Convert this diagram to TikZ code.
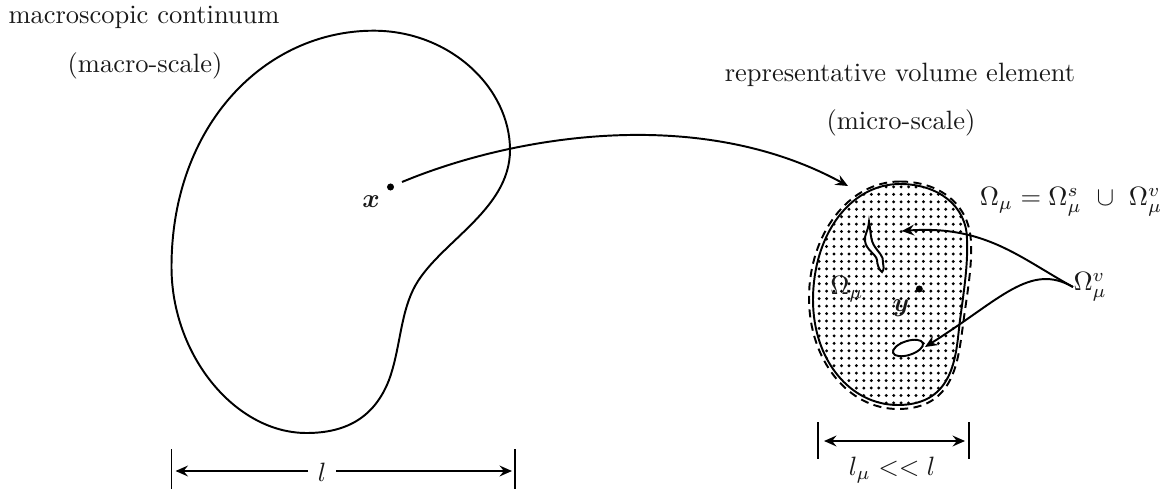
\documentclass[tikz,border=0pt]{standalone}
\usepackage{amsmath}
\usepackage{amssymb}
\usetikzlibrary{arrows.meta}
\newcommand{\rvesolid}{(900,184) .. controls (937,184) and (967,205) .. (967,240) .. controls (968,265) and (964,290) .. (960,320) .. controls (956,350) and (957,405) .. (898,405) .. controls (850,405) and (813,360) .. (813,300) .. controls (813,235) and (850,184) .. (900,184) -- cycle}
\newcommand{\rvedash}{(900,181.5) .. controls (940,181.5) and (971,205) .. (971,245) .. controls (972,270) and (966,300) .. (963,325) .. controls (958,360) and (955,409) .. (898,409) .. controls (848,409) and (809,360) .. (809,298) .. controls (809,235) and (848,181.5) .. (900,181.5) -- cycle}
\tikzset{
  x=0.37pt,y=-0.37pt,
  curve/.style={line width=0.72pt,black},
  conn/.style={line width=0.72pt,black,-{Stealth[length=4.6pt,width=4pt,inset=1.6pt]}},
  dimarrow/.style={line width=0.72pt,black,{Stealth[length=4.6pt,width=4pt,inset=1.6pt]}-{Stealth[length=4.6pt,width=4pt,inset=1.6pt]}},
  txt/.style={inner sep=0pt,text=black!90,scale=0.98},
  dot/.style={circle,fill=black,inner sep=0pt,minimum size=2.6pt}
}
\begin{document}
\begin{tikzpicture}
\useasboundingbox (0,0) rectangle (1166,489);
% macro body
\draw[curve] (373.6,30.7) .. controls (450,30.7) and (510,88) .. (510,150) .. controls (510,212) and (435,244) .. (413,290) .. controls (400,317) and (400,350) .. (389,380) .. controls (375,416) and (348,433) .. (306.5,433) .. controls (235,433) and (171.5,355) .. (171.5,267) .. controls (171.5,125) and (265,30.7) .. (373.6,30.7) -- cycle;
\node[dot] (x) at (390.5,187) {};
\node[txt] (xl) at (371,202) {$\boldsymbol{x}$};
\coordinate (xs) at (402,182);
\coordinate (rt) at (848,186);
\draw[conn] (xs) .. controls (515,135) and (700,105) .. (rt);
\node[txt] (t1) at (144,17) {macroscopic continuum};
\node[txt] (t2) at (145,66) {(macro-scale)};
\node[txt] (t3) at (900,75) {representative volume element};
\node[txt] (t4) at (901,123) {(micro-scale)};
% RVE
\begin{scope}
\clip \rvesolid;
\foreach \i in {0,...,25}{\foreach \j in {0,...,32}{
  \fill (804.25+7.45*\i,172+7.45*\j) circle (0.6pt);
}}
\end{scope}
\draw[curve] \rvesolid;
\draw[curve,dash pattern=on 3pt off 2pt] \rvedash;
\draw[curve,fill=white] (869,221.7) .. controls (868,232) and (864,235) .. (865,241) .. controls (866,250) and (876,254) .. (877,260) .. controls (877,264) and (879,270) .. (882,272) .. controls (884,270) and (884,266) .. (883,263) .. controls (884,256) and (878,252) .. (875,247) .. controls (870,240) and (871,232) .. (869,221.7) -- cycle;
\draw[curve,fill=white,rotate around={18:(908,348)}] (908,348) ellipse (15.7 and 7);
\node[dot] (y) at (919.3,289) {};
\node[txt] (yl) at (901,308) {$\boldsymbol{y}$};
\node[txt] (om) at (847,289) {$\Omega_\mu$};
\node[txt,anchor=west] (omv) at (1073,287) {$\Omega_\mu^v$};
\node[txt] (eq) at (1071,202) {$\Omega_\mu = \Omega_\mu^s\ \cup\ \Omega_\mu^v$};
\coordinate (h1) at (901.7,231);
\coordinate (h2) at (925,347);
\draw[conn] (omv.west) .. controls (1020,258) and (985,225) .. (h1);
\draw[conn] (omv.west) .. controls (1030,262) and (1000,300) .. (h2);
% dims
\coordinate (a1t) at (171.5,449); \coordinate (a1b) at (171.5,489);
\coordinate (a2t) at (515,449); \coordinate (a2b) at (515,489);
\draw[curve] (a1t) -- (a1b);
\draw[curve] (a2t) -- (a2b);
\node[txt] (l) at (322,472) {$l$};
\coordinate (la) at (175.5,471);
\coordinate (lb) at (512,471);
\coordinate (lc) at (308,471);
\coordinate (ld) at (336,471);
\draw[conn] (lc) -- (la);
\draw[conn] (ld) -- (lb);
\coordinate (m1t) at (818,422); \coordinate (m1b) at (818,459);
\coordinate (m2t) at (969,422); \coordinate (m2b) at (969,459);
\draw[curve] (m1t) -- (m1b);
\draw[curve] (m2t) -- (m2b);
\coordinate (ma) at (824,441);
\coordinate (mb) at (965,441);
\draw[dimarrow] (ma) -- (mb);
\node[txt] (lm) at (892,470) {$l_\mu << l$};
\end{tikzpicture}
\end{document}
